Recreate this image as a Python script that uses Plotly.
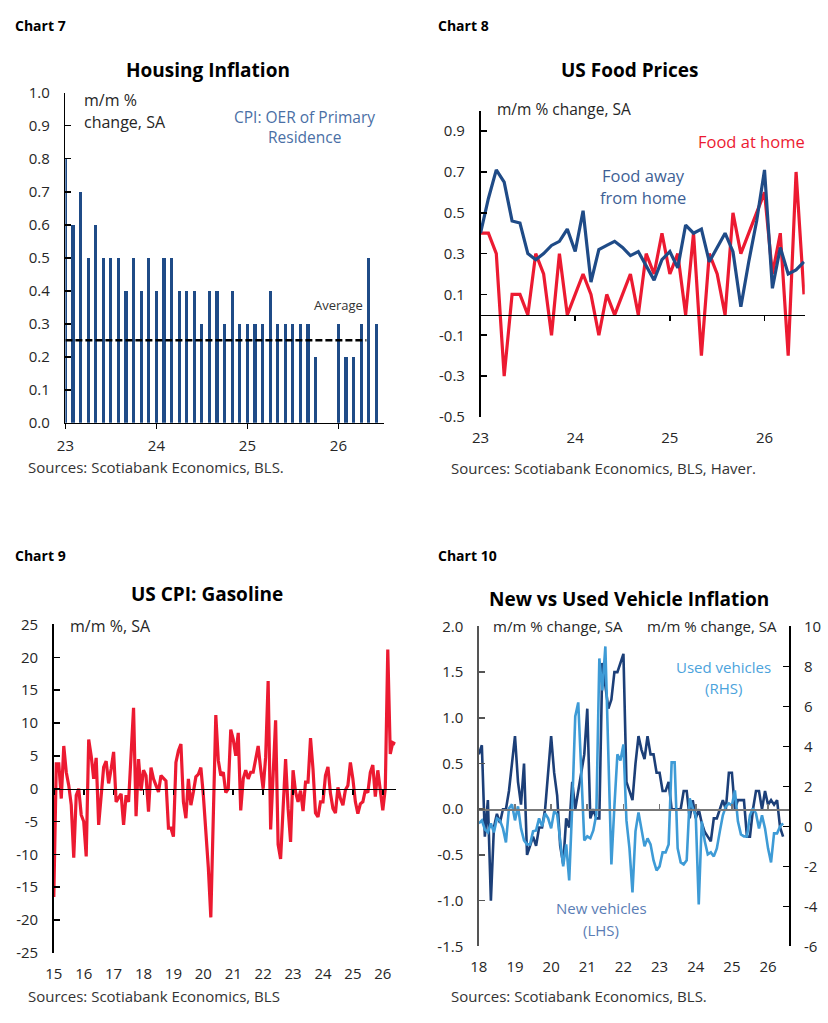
import plotly.graph_objects as go

W, H = 828, 1023


def px(x):
    return x / W


def py(y):
    return 1 - y / H


# ---------------- Chart 7: Housing inflation (Jan 2023 .. Jun 2026) ----------------
housing_year_labels = ["23", "24", "25", "26"]
housing_oer = [0.8, 0.6, 0.7, 0.5, 0.6, 0.5, 0.5, 0.5, 0.4, 0.5, 0.4, 0.5,
               0.4, 0.5, 0.5, 0.4, 0.4, 0.4, 0.3, 0.4, 0.4, 0.3, 0.4, 0.3,
               0.3, 0.3, 0.3, 0.4, 0.3, 0.3, 0.3, 0.3, 0.3, 0.2, None, None,
               0.3, 0.2, 0.2, 0.3, 0.5, 0.3]
housing_average = 0.25
housing_average_end = 39.7  # month index where the average line stops
housing_yticks = [0.0, 0.1, 0.2, 0.3, 0.4, 0.5, 0.6, 0.7, 0.8, 0.9, 1.0]

# ---------------- Chart 8: US food prices (Jan 2023 .. Jun 2026) ----------------
food_year_labels = ["23", "24", "25", "26"]
food_at_home = [0.4, 0.4, 0.3, -0.3, 0.1, 0.1, 0.0, 0.3, 0.2, -0.1, 0.3, 0.0,
                0.1, 0.2, 0.1, -0.1, 0.1, 0.0, 0.1, 0.2, 0.0, 0.3, 0.2, 0.4,
                0.2, 0.3, 0.0, 0.4, -0.2, 0.3, 0.2, 0.0, 0.5, 0.3, 0.4, 0.5,
                0.6, 0.2, 0.4, -0.2, 0.7, 0.1]
food_away = [0.40, 0.57, 0.71, 0.65, 0.46, 0.45, 0.30, 0.27, 0.30, 0.34, 0.36, 0.42,
             0.31, 0.51, 0.16, 0.32, 0.34, 0.36, 0.33, 0.29, 0.31, 0.24, 0.17, 0.27,
             0.31, 0.23, 0.44, 0.40, 0.42, 0.26, 0.33, 0.40, 0.31, 0.04, 0.26, 0.46,
             0.71, 0.13, 0.33, 0.20, 0.22, 0.26]
food_yticks = [-0.5, -0.3, -0.1, 0.1, 0.3, 0.5, 0.7, 0.9]

# ---------------- Chart 9: US CPI gasoline (Jan 2015 .. Jun 2026) ----------------
gas_year_labels = ["15", "16", "17", "18", "19", "20", "21", "22", "23", "24", "25", "26"]
gasoline = [-16.5, 3.8, 3.8, -1.5, 6.5, 2.5, 0.5, -2.5, -10.5, -1.0, 0.0, -4.0,
            -5.0, -10.3, 7.5, 5.0, 1.5, 4.7, -5.5, -1.0, 3.3, 4.2, 0.8, 3.0,
            5.6, -2.0, -1.5, -0.8, -5.5, -1.0, -2.0, 6.0, 12.3, -4.2, 4.5, -0.3,
            2.8, 2.0, -3.5, 3.2, 1.5, 0.5, -0.5, 2.0, 1.6, 1.2, -6.0, -6.0,
            -7.3, 4.0, 5.8, 6.8, -2.0, -4.5, 1.5, -2.5, -0.5, 1.8, 2.2, 3.2,
            -1.0, -6.0, -12.0, -19.6, -3.5, 11.2, 4.3, 2.0, 2.5, -0.6, 0.0, 9.0,
            7.5, 5.0, 8.5, -3.3, 1.5, 2.8, 1.5, 2.5, 2.5, 4.5, 6.5, 3.0,
            0.0, 4.8, 16.4, -6.2, 3.0, 10.4, -8.5, -10.7, -3.0, 4.5, -3.0, -8.1,
            2.8, -0.5, -2.0, -0.3, -3.4, 1.0, 1.0, 7.7, 3.0, -3.7, -4.3, -2.0,
            -2.0, 2.0, 3.3, -0.7, -3.0, -3.7, 0.2, -1.5, -2.5, -0.2, 0.5, 4.0,
            1.5, -2.0, -3.8, -2.3, -2.0, -0.2, -0.6, 2.5, 3.6, -1.2, 2.8, -0.3,
            -3.3, 0.0, 21.2, 5.3, 7.0, 6.8]
gas_yticks = [-25, -20, -15, -10, -5, 0, 5, 10, 15, 20, 25]

# ---------------- Chart 10: New vs used vehicles (Jan 2018 .. Jun 2026) ----------------
veh_year_labels = ["18", "19", "20", "21", "22", "23", "24", "25", "26"]
new_vehicles = [0.6, 0.7, -0.3, 0.1, -1.0, -0.2, -0.05, -0.15, 0.0, 0.0,
                0.2, 0.5, 0.8, 0.3, 0.05, 0.5, -0.5, -0.4, -0.3, -0.4,
                -0.2, -0.2, 0.0, 0.4, 0.8, 0.4, 0.15, -0.4, -0.6, -0.1,
                -0.2, 0.3, 0.0, 0.2, 0.4, 0.6, 1.1, -0.1, 0.0, -0.1,
                -0.1, 1.6, 1.35, 1.1, 1.2, 1.5, 1.5, 1.6, 1.7, 0.3,
                0.2, 0.1, 0.5, 0.8, 0.65, 0.55, 0.8, 0.6, 0.6, 0.4,
                0.4, 0.2, 0.2, 0.3, 0.0, 0.0, 0.0, 0.0, 0.2, 0.2,
                -0.1, 0.1, -0.1, 0.0, -0.15, -0.25, -0.3, -0.35, -0.1, -0.1,
                0.0, 0.1, 0.0, 0.4, 0.4, 0.0, 0.1, 0.1, 0.1, -0.3,
                -0.3, 0.0, 0.2, 0.2, 0.0, 0.2, 0.05, 0.1, 0.05, 0.1,
                -0.2, -0.3]
used_vehicles = [0.15, 0.3, -0.15, -0.3, 0.15, -0.3, 0.4, 0.3, -0.1, -0.8,
                 0.9, 1.1, 0.3, 1.0, -0.1, -0.7, -0.9, -0.9, -0.25, -0.2,
                 0.4, 0.0, 0.65, 0.4, -0.1, 0.75, 0.6, -0.75, -2.0, -0.9,
                 -2.7, 1.0, 5.5, 6.2, 2.8, -0.7, -0.5, -0.6, -0.2, 0.6,
                 8.4, 6.8, 9.0, 3.0, -1.9, 1.0, 3.6, 3.3, 4.1, 0.3,
                 -1.1, -3.3, -0.25, 0.7, -0.1, -1.0, -0.6, -0.9, -1.7, -2.2,
                 -2.0, -1.3, -1.3, -0.9, 3.2, 3.2, -1.1, -1.8, -1.9, -1.7,
                 1.4, 0.9, 0.55, -3.9, 0.25, -0.75, -1.4, -1.3, -1.5, -1.1,
                 -0.25, 0.55, 1.0, 1.15, 1.05, 1.8, 0.25, -0.4, -0.5, -0.5,
                 0.55, 0.9, 0.65, -0.1, 0.55, -0.1, -1.1, -1.8, -0.35, -0.35,
                 0.0, 0.15]
veh_left_ticks = [-1.5, -1.0, -0.5, 0.0, 0.5, 1.0, 1.5, 2.0]
veh_right_ticks = [-6, -4, -2, 0, 2, 4, 6, 8, 10]

# ---------------- styling ----------------
FONT = "Open Sans"
NAVY = "#1F4B87"
RED = "#EC1A31"
DARK_NAVY = "#1C3F78"
LIGHT_BLUE = "#3E9BD6"
TXT = "#262626"
TICKFONT = dict(family=FONT, size=15, color=TXT)


def months(arr):
    return list(range(len(arr)))


def year_ticks(labels):
    return [12 * i for i in range(len(labels))]


fig = go.Figure()

# Chart 7 traces
fig.add_trace(go.Bar(x=months(housing_oer), y=housing_oer, width=0.42,
                     marker=dict(color=NAVY, line=dict(width=0)),
                     xaxis="x", yaxis="y", showlegend=False, hoverinfo="skip"))
fig.add_trace(go.Scatter(x=[0, housing_average_end], y=[housing_average, housing_average],
                         mode="lines", line=dict(color="black", width=2.5, dash="7px,3px"),
                         xaxis="x", yaxis="y", showlegend=False, hoverinfo="skip"))

# Chart 8 traces
fig.add_trace(go.Scatter(x=months(food_at_home), y=food_at_home, mode="lines",
                         line=dict(color=RED, width=3.2), xaxis="x2", yaxis="y2",
                         showlegend=False, hoverinfo="skip"))
fig.add_trace(go.Scatter(x=months(food_away), y=food_away, mode="lines",
                         line=dict(color=NAVY, width=3.2), xaxis="x2", yaxis="y2",
                         showlegend=False, hoverinfo="skip"))

# Chart 9 trace
fig.add_trace(go.Scatter(x=months(gasoline), y=gasoline, mode="lines",
                         line=dict(color=RED, width=3.2), xaxis="x3", yaxis="y3",
                         showlegend=False, hoverinfo="skip"))

# Chart 10 traces
fig.add_trace(go.Scatter(x=months(new_vehicles), y=new_vehicles, mode="lines",
                         line=dict(color=DARK_NAVY, width=2.6), xaxis="x4", yaxis="y4",
                         showlegend=False, hoverinfo="skip"))
fig.add_trace(go.Scatter(x=months(used_vehicles), y=used_vehicles, mode="lines",
                         line=dict(color=LIGHT_BLUE, width=2.6), xaxis="x4", yaxis="y5",
                         showlegend=False, hoverinfo="skip"))

# helper (invisible) traces to register the zero-line axes
for xa, ya in (("x6", "y2"), ("x7", "y3"), ("x8", "y4")):
    fig.add_trace(go.Scatter(x=[0], y=[None], mode="lines", xaxis=xa, yaxis=ya,
                             showlegend=False, hoverinfo="skip"))

# domains (pixels -> paper)
d7x = [px(57), px(379)]
d7y = [py(420), py(83.3)]
d8x = [px(476.7), px(804.5)]
d8y = [py(414), py(101.7)]
d9x = [px(45.3), px(391)]
d9y = [py(960.7), py(625.7)]
d10x = [px(475), px(789)]
d10y = [py(954), py(627.7)]

food_yrange = [-0.5, 1.0]
gas_yrange = [-25, 25]
veh_lrange = [-1.5, 2.0]
veh_rrange = [-6, 10]


def zero_pos(dom, rng):
    return dom[0] + (0 - rng[0]) / (rng[1] - rng[0]) * (dom[1] - dom[0])


def yax(dom, rng, tickvals, ticktext, anchor, linecolor="black", **kw):
    d = dict(domain=dom, range=rng, tickvals=tickvals, ticktext=ticktext,
             anchor=anchor, showgrid=False, zeroline=False, showline=True,
             linecolor=linecolor, linewidth=1.6, ticks="inside", ticklen=6,
             tickwidth=1.6, tickcolor=linecolor, tickfont=TICKFONT,
             ticklabelstandoff=11, fixedrange=True)
    d.update(kw)
    return d


def xbottom(dom, rng, labels, anchor):
    return dict(domain=dom, range=rng, tickvals=year_ticks(labels), ticktext=labels,
                anchor=anchor, showgrid=False, zeroline=False, showline=False,
                ticks="", tickfont=TICKFONT, ticklabelstandoff=10, fixedrange=True)


def xzero(over, rng, labels, pos, color, ticks):
    return dict(overlaying=over, anchor="free", position=pos, range=rng,
                tickvals=year_ticks(labels), showticklabels=False, showgrid=False,
                zeroline=False, showline=True, linecolor=color, linewidth=1.6,
                ticks=ticks, ticklen=5, tickwidth=1.6, tickcolor=color,
                fixedrange=True)


fig.update_layout(
    width=W, height=H, margin=dict(l=0, r=0, t=0, b=0),
    paper_bgcolor="white", plot_bgcolor="rgba(0,0,0,0)",
    showlegend=False, bargap=0,
    xaxis=dict(domain=d7x, range=[0, 42], tickvals=year_ticks(housing_year_labels),
               ticktext=housing_year_labels, anchor="y", showgrid=False,
               zeroline=False, showline=True, linecolor="black", linewidth=1.6,
               ticks="outside", ticklen=5, tickwidth=1.6, tickcolor="black",
               tickfont=TICKFONT, ticklabelstandoff=4, fixedrange=True),
    yaxis=yax(d7y, [0, 1.0], housing_yticks, [f"{v:.1f}" for v in housing_yticks], "x"),
    xaxis2=xbottom(d8x, [0, 41.1], food_year_labels, "y2"),
    yaxis2=yax(d8y, food_yrange, food_yticks, [f"{v:.1f}" for v in food_yticks], "x2"),
    xaxis6=xzero("x2", [0, 41.1], food_year_labels, zero_pos(d8y, food_yrange), "black", "outside"),
    xaxis3=xbottom(d9x, [0, 137.2], gas_year_labels, "y3"),
    yaxis3=yax(d9y, gas_yrange, gas_yticks, [str(v) for v in gas_yticks], "x3"),
    xaxis7=xzero("x3", [0, 137.2], gas_year_labels, zero_pos(d9y, gas_yrange), "black", "outside"),
    xaxis4=xbottom(d10x, [0, 103.1], veh_year_labels, "y4"),
    yaxis4=yax(d10y, veh_lrange, veh_left_ticks, [f"{v:.1f}" for v in veh_left_ticks], "x4",
               linecolor="#555555"),
    yaxis5=yax(d10y, veh_rrange, veh_right_ticks, [str(v) for v in veh_right_ticks], "x4",
               overlaying="y4", side="right", ticklabelstandoff=10),
    xaxis8=xzero("x4", [0, 103.1], veh_year_labels, zero_pos(d10y, veh_lrange), "#777777", "inside"),
)


def note(text, x, y, size=14, color=TXT, bold=False, xanchor="left"):
    fig.add_annotation(text=f"<b>{text}</b>" if bold else text, x=px(x), y=py(y),
                       xref="paper", yref="paper", xanchor=xanchor, yanchor="middle",
                       showarrow=False, font=dict(family=FONT, size=size, color=color))


# panel labels and titles
note("Chart 7", 4, 15, size=14, color="black", bold=True)
note("Chart 8", 432, 15, size=14, color="black", bold=True)
note("Chart 9", 4, 555, size=14, color="black", bold=True)
note("Chart 10", 432, 555, size=14, color="black", bold=True)
note("Housing Inflation", 201, 60, size=19, color="black", bold=True, xanchor="center")
note("US Food Prices", 627, 60, size=19, color="black", bold=True, xanchor="center")
note("US CPI: Gasoline", 200, 595, size=19, color="black", bold=True, xanchor="center")
note("New vs Used Vehicle Inflation", 627, 600, size=19, color="black", bold=True, xanchor="center")

# chart 7 texts
note("m/m %", 74, 91, size=16)
note("change, SA", 74, 113, size=16)
note("CPI: OER of Primary", 299, 108, size=15.5, color="#4A6FA5", xanchor="center")
note("Residence", 299, 129, size=15.5, color="#4A6FA5", xanchor="center")
note("Average", 333, 300, size=13, color="#333333", xanchor="center")
note("Sources: Scotiabank Economics, BLS.", 17, 465, size=15, color="#333333")

# chart 8 texts
note("m/m % change, SA", 491, 100, size=15.5)
note("Food at home", 751, 133, size=16.5, color=RED, xanchor="center")
note("Food away", 641, 168, size=16.5, color="#3D5F95", xanchor="center")
note("from home", 641, 190, size=16.5, color="#3D5F95", xanchor="center")
note("Sources: Scotiabank Economics, BLS, Haver.", 445, 466, size=15, color="#333333")

# chart 9 texts
note("m/m %, SA", 60, 627, size=16)
note("Sources: Scotiabank Economics, BLS", 17, 1005, size=15, color="#333333")

# chart 10 texts
note("m/m % change, SA", 487, 627, size=15)
note("m/m % change, SA", 778, 627, size=15, xanchor="right")
note("Used vehicles", 722, 669, size=15, color="#4BA3DC", xanchor="center")
note("(RHS)", 722, 690, size=15, color="#4BA3DC", xanchor="center")
note("New vehicles", 599, 915, size=15, color="#5A7DB5", xanchor="center")
note("(LHS)", 599, 937, size=15, color="#5A7DB5", xanchor="center")
note("Sources: Scotiabank Economics, BLS.", 445, 1005, size=15, color="#333333")

fig.write_html("out.html", config={"displayModeBar": False, "staticPlot": True},
               post_script="document.body.style.margin='0';document.body.style.overflow='hidden';")
